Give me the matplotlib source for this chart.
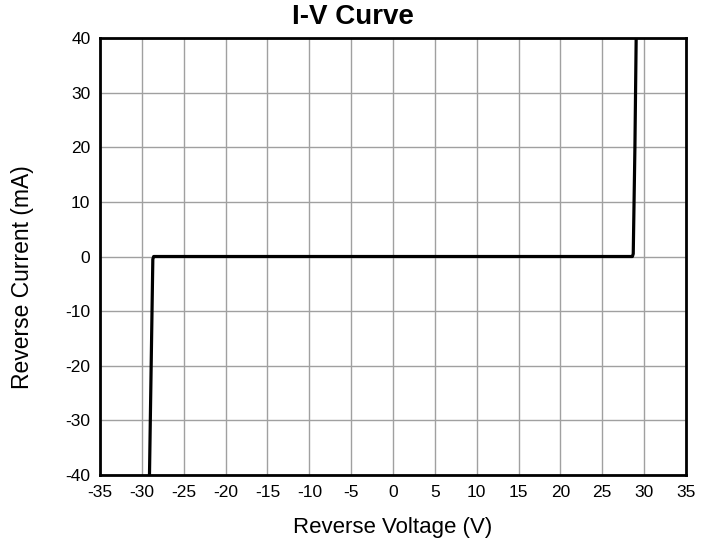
import matplotlib
matplotlib.use("Agg")
import matplotlib.pyplot as plt
import numpy as np

plt.rcParams['font.family'] = ['Liberation Sans', 'DejaVu Sans']
plt.rcParams['axes.unicode_minus'] = False

# I-V curve points (reverse voltage V, reverse current mA)
voltage = [-29.1, -29.0, -28.7, -28.6, 28.6, 28.7, 28.9, 29.05]
current = [-40, -30, -0.5, 0, 0, 0.5, 20, 40]

x_ticks = np.arange(-35, 36, 5)
y_ticks = np.arange(-40, 41, 10)

fig = plt.figure(figsize=(7.15, 5.45), dpi=100)
ax = fig.add_axes([0.14, 0.1284, 0.8194, 0.8019])

ax.plot(voltage, current, color='black', lw=2.3, solid_joinstyle='round')

ax.set_xlim(-35, 35)
ax.set_ylim(-40, 40)
ax.set_xticks(x_ticks)
ax.set_yticks(y_ticks)
ax.grid(True, color='#a0a0a0', lw=1.0)
ax.set_axisbelow(True)
ax.tick_params(length=0, labelsize=12.5, pad=7)
for s in ax.spines.values():
    s.set_linewidth(2.0)
    s.set_color('black')

# title and axis labels placed in figure coords
fig.text(0.494, 0.969, "I-V Curve", fontsize=20, fontweight='bold', ha='center', va='center')
fig.text(0.5497, 0.033, "Reverse Voltage (V)", fontsize=16, ha='center', va='center')
fig.text(0.032, 0.492, "Reverse Current (mA)", fontsize=16.5, rotation=90, ha='center', va='center')

fig.savefig("out.png", dpi=100)
